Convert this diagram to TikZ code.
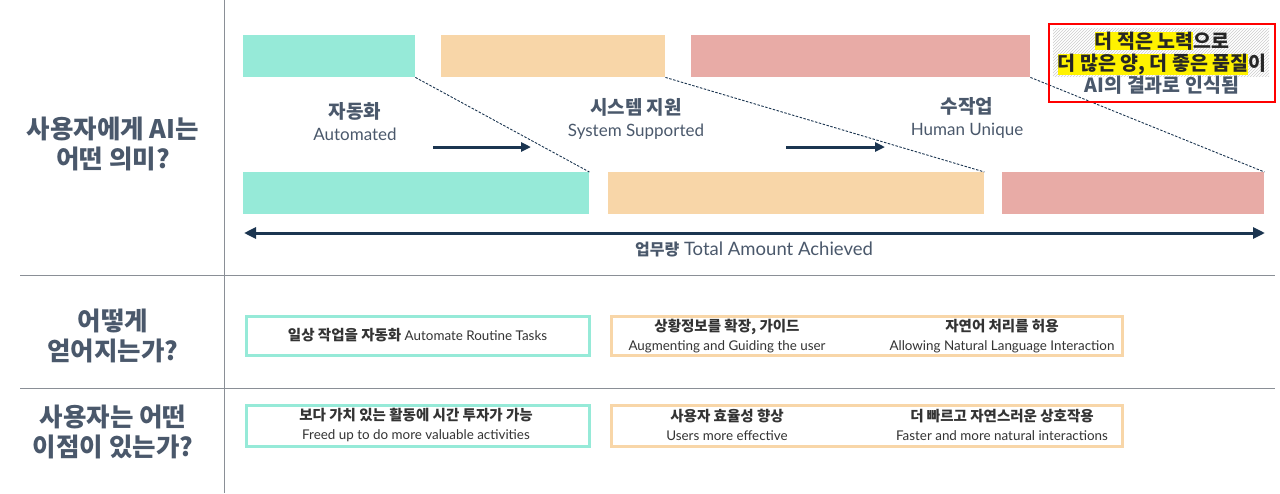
\documentclass[tikz,border=0pt]{standalone}
\usepackage{fontspec}
\setmainfont{Lato}
\newfontfamily\kr{Noto Sans CJK KR}
\usetikzlibrary{arrows.meta, positioning, calc, patterns}

\definecolor{autofill}{HTML}{96EAD8}
\definecolor{sysfill}{HTML}{F8D6A8}
\definecolor{humanfill}{HTML}{E8ABA6}
\definecolor{navy}{HTML}{1B3550}
\definecolor{slate}{HTML}{4A586B}
\definecolor{rulegray}{HTML}{8A8F96}

\newcommand{\krb}[1]{{\kr\bfseries #1}}

\begin{document}
\begin{tikzpicture}[
        x=1pt, y=-1pt,
        bar/.style={
            anchor=north west,
            inner sep=0pt,
            minimum height=42pt
        },
        card/.style={
            anchor=north west,
            draw,
            fill=white,
            line width=3pt,
            inner sep=0pt,
            minimum height=39pt
        },
        title/.style={
            align=center,
            text=slate,
            font=\kr\bfseries\fontsize{25.5}{30}\selectfont
        },
        phase/.style={
            align=center,
            text=slate,
            font=\fontsize{17}{22}\selectfont
        },
        cardtext/.style={
            align=center,
            text=black!80,
            font=\fontsize{13.4}{18.5}\selectfont
        },
        guide/.style={
            draw=navy,
            line width=0.9pt,
            dash pattern=on 2.5pt off 1.5pt
        },
        flow/.style={
            -{Triangle[length=10pt, width=9pt]},
            draw=navy,
            line width=3pt
        },
        sep/.style={
            draw=rulegray,
            line width=1pt
        }
    ]

    \useasboundingbox (0,0) rectangle (1280,493);

    % separators
    \draw[sep] (224,0) -- (224,493);
    \draw[sep] (20,275) -- (1275,275);
    \draw[sep] (20,388) -- (1275,388);

    % row titles
    \node[title] (q1) at (113,144) {사용자에게 AI는\\어떤 의미?};
    \node[title] (q2) at (113,336) {어떻게\\얻어지는가?};
    \node[title] (q3) at (113,432) {사용자는 어떤\\이점이 있는가?};

    % top bars
    \node[bar, fill=autofill, minimum width=172pt] (autoT) at (243,35) {};
    \node[bar, fill=sysfill, minimum width=224pt] (sysT) at (441,35) {};
    \node[bar, fill=humanfill, minimum width=339pt] (humanT) at (691,35) {};

    % bottom bars
    \node[bar, fill=autofill, minimum width=346pt] (autoB) at (243,172) {};
    \node[bar, fill=sysfill, minimum width=376pt] (sysB) at (608,172) {};
    \node[bar, fill=humanfill, minimum width=262pt] (humanB) at (1002,172) {};

    \draw[guide] (autoT.south east) -- (autoB.north east);
    \draw[guide] (sysT.south east) -- (sysB.north east);
    \draw[guide] (humanT.south east) -- (humanB.north east);

    % phase labels
    \node[phase] (auto) at (355,122) {{\krb{\fontsize{19}{22}\selectfont 자동화}}\\Automated};
    \node[phase] (sys) at (636,119) {{\krb{\fontsize{19}{22}\selectfont 시스템 지원}}\\System Supported};
    \node[phase] (human) at (967,118) {{\krb{\fontsize{19}{22}\selectfont 수작업}}\\Human Unique};

    \coordinate (f1a) at (433,147);
    \coordinate (f1b) at (531,147);
    \coordinate (f2a) at (786,147);
    \coordinate (f2b) at (885,147);
    \draw[flow] (f1a) -- (f1b);
    \draw[flow] (f2a) -- (f2b);

    % total amount
    \coordinate (totL) at (244,233);
    \coordinate (totR) at (1265,233);
    \draw[navy, line width=3pt, {Triangle[length=12pt, width=11pt]}-{Triangle[length=12pt, width=11pt]}] (totL) -- (totR);
    \node[phase, font=\fontsize{18.5}{22}\selectfont] (total) at (754,249) {\krb{\fontsize{16}{20}\selectfont 업무량} Total Amount Achieved};

    % callout
    \fill[pattern=north east lines, pattern color=gray!40] (1053,28) rectangle (1269,76);
    \node[draw=red, line width=2pt, anchor=north west, minimum width=226pt, minimum height=78pt] (note) at (1048,23) {};
    \node[align=center, text=slate, font=\kr\bfseries\fontsize{19.5}{22}\selectfont] (notetext) at ($(note.center)+(0,0)$)
        {\setlength{\fboxsep}{0pt}\textcolor{black!85}{\colorbox{yellow}{더 적은 노력}으로}\\
         \setlength{\fboxsep}{0pt}\textcolor{black!85}{\colorbox{yellow}{더 많은 양, 더 좋은 품질}이}\\
         AI의 결과로 인식됨};

    % how
    \node[card, draw=autofill, minimum width=343pt] (how1) at (244.5,314.5) {};
    \node[card, draw=sysfill, minimum width=511pt] (how2) at (609.5,314.5) {};
    \node[cardtext] (how1t) at (how1.center) {\krb{\fontsize{14.5}{18}\selectfont 일상 작업을 자동화} Automate Routine Tasks};
    \node[cardtext] (how2a) at (727,336) {\krb{\fontsize{14.5}{18}\selectfont 상황정보를 확장, 가이드}\\Augmenting and Guiding the user};
    \node[cardtext] (how2b) at (1002,336) {\krb{\fontsize{14.5}{18}\selectfont 자연어 처리를 허용}\\Allowing Natural Language Interaction};

    % benefits
    \node[card, draw=autofill, minimum width=343pt, minimum height=41pt] (ben1) at (244.5,403.5) {};
    \node[card, draw=sysfill, minimum width=511pt, minimum height=41pt] (ben2) at (609.5,403.5) {};
    \node[cardtext] (ben1t) at (416,425) {\krb{\fontsize{14.5}{18}\selectfont 보다 가치 있는 활동에 시간 투자가 가능}\\Freed up to do more valuable activities};
    \node[cardtext] (ben2a) at (727,425) {\krb{\fontsize{14.5}{18}\selectfont 사용자 효율성 향상}\\Users more effective};
    \node[cardtext] (ben2b) at (1002,425) {\krb{\fontsize{14.5}{18}\selectfont 더 빠르고 자연스러운 상호작용}\\Faster and more natural interactions};

\end{tikzpicture}
\end{document}
